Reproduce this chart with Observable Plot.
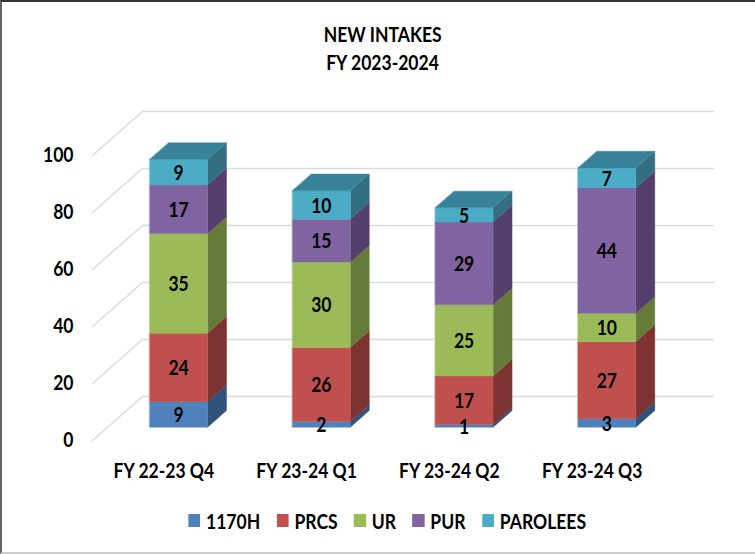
<!DOCTYPE html>
<html>
<head>
<meta charset="utf-8">
<script src="https://cdn.jsdelivr.net/npm/d3@7"></script>
<script src="https://cdn.jsdelivr.net/npm/@observablehq/plot@0.6"></script>
<style>
html,body{margin:0;padding:0;background:#fff;}
#page{position:relative;width:755px;height:554px;overflow:hidden;background:#fff;box-sizing:border-box;
  border-top:2px solid #333;border-left:2px solid #666;border-bottom:2px solid #ccc;margin:0;
  font-family:Lato,sans-serif;color:#000;}
#frame{position:absolute;left:3px;top:2px;width:755px;height:554px;}
#title{position:absolute;left:-5px;top:0;width:755px;height:86px;text-align:center;font-size:21px;font-weight:700;line-height:28px;padding-top:16px;padding-left:11px;box-sizing:border-box;}
#title span{display:inline-block;transform:scaleX(.835);}
#chart{position:absolute;left:-5px;top:84px;width:755px;height:402px;}
#legend{position:absolute;left:-5px;top:486px;width:755px;height:60px;}
#legend .row{display:flex;justify-content:center;align-items:center;gap:19.6px;padding-top:18px;padding-left:23px;font-size:21px;font-weight:700;transform:scaleX(.835);}
#legend .item{display:flex;align-items:center;gap:7px;}
#legend .sw{width:14.4px;height:13px;display:inline-block;}
</style>
</head>
<body>
<div id="page"><div id="frame">
  <div id="title"><span>NEW INTAKES</span><br><span>FY 2023-2024</span></div>
  <div id="chart"></div>
  <div id="legend"></div>
</div></div>
<script>
const categories = ["FY 22-23 Q4", "FY 23-24 Q1", "FY 23-24 Q2", "FY 23-24 Q3"];
const seriesNames = ["1170H", "PRCS", "UR", "PUR", "PAROLEES"];
const v1170H   = [9, 2, 1, 3];
const vPRCS    = [24, 26, 17, 27];
const vUR      = [35, 30, 25, 10];
const vPUR     = [17, 15, 29, 44];
const vPAROLEES= [9, 10, 5, 7];
const seriesValues = [v1170H, vPRCS, vUR, vPUR, vPAROLEES];
const frontColors = ["#4f81bd", "#c0504d", "#9bbb59", "#8064a2", "#4bacc6"];
const sideColors  = ["#30527b", "#7c3331", "#667b3a", "#533e6c", "#336f80"];
const topColor = "#38829a";
const gridTicks = [0, 20, 40, 60, 80, 100];

// oblique projection: depth d in [0,1] shifts a point right and up
const depthX = 0.35;   // slots
const depthY = 15.44;  // value units
const px = (slot, d) => slot + d * depthX;
const py = (val, d) => val + d * depthY;

const barStart = 0.295, barWidth = 0.406, dFront = 0.30, dBack = 0.68;

const grid = gridTicks.flatMap(t => [
  {t, x: px(0, 0), y: py(t, 0)},
  {t, x: px(0, 1), y: py(t, 1)},
  {t, x: px(categories.length, 1), y: py(t, 1)}
]);

const faces = [], labels = [];
let id = 0;
const pushFace = (pts, fill) => { const f = id++; pts.forEach(p => faces.push({x: p[0], y: p[1], f, fill})); };
categories.forEach((c, i) => {
  const L = i + barStart, R = L + barWidth;
  let base = 0;
  seriesValues.forEach((vals, s) => {
    const top = base + vals[i];
    pushFace([[px(R,dFront),py(base,dFront)],[px(R,dBack),py(base,dBack)],[px(R,dBack),py(top,dBack)],[px(R,dFront),py(top,dFront)]], sideColors[s]);
    pushFace([[px(L,dFront),py(base,dFront)],[px(R,dFront),py(base,dFront)],[px(R,dFront),py(top,dFront)],[px(L,dFront),py(top,dFront)]], frontColors[s]);
    labels.push({x: px((L+R)/2, dFront), y: py(base + vals[i]/2, dFront), text: String(vals[i])});
    base = top;
  });
  pushFace([[px(L,dFront),py(base,dFront)],[px(R,dFront),py(base,dFront)],[px(R,dBack),py(base,dBack)],[px(L,dBack),py(base,dBack)]], topColor);
});

const plot = Plot.plot({
  width: 755, height: 402,
  marginLeft: 92, marginRight: 42, marginTop: 23, marginBottom: 50,
  style: {background: "transparent", fontFamily: "Lato, sans-serif", fontSize: "21px", fontWeight: 700, color: "#000", overflow: "visible"},
  x: {domain: [0, categories.length + depthX]},
  y: {domain: [0, 100 + depthY]},
  color: {type: "identity"},
  marks: [
    Plot.line(grid, {x: "x", y: "y", z: "t", stroke: "#dcdcdc", strokeWidth: 1.5}),
    Plot.line(faces, {x: "x", y: "y", z: "f", fill: "fill", stroke: "fill", strokeWidth: 0.4, curve: "linear-closed"}),
    Plot.axisY({ticks: gridTicks, tickSize: 0, tickPadding: 19, label: null, fontSize: 21}),
    Plot.axisX({ticks: categories.map((c, i) => i + 0.5), tickFormat: t => categories[Math.round(t - 0.5)], tickSize: 0, tickPadding: 23, label: null, fontSize: 21}),
    Plot.text(labels, {x: "x", y: "y", text: "text", fontSize: 21, fill: "#000", dy: 1})
  ]
});
document.getElementById("chart").appendChild(plot);
// condense glyphs to match the narrow typeface of the reference
d3.select(plot).selectAll("text").each(function () {
  const t = this.getAttribute("transform") || "";
  this.setAttribute("transform", t + " scale(.835,1)");
});

const row = document.createElement("div");
row.className = "row";
seriesNames.forEach((n, i) => {
  const it = document.createElement("span"); it.className = "item";
  const sw = document.createElement("span"); sw.className = "sw"; sw.style.background = frontColors[i];
  const tx = document.createElement("span"); tx.textContent = n;
  it.append(sw, tx); row.append(it);
});
document.getElementById("legend").append(row);
</script>
</body>
</html>
